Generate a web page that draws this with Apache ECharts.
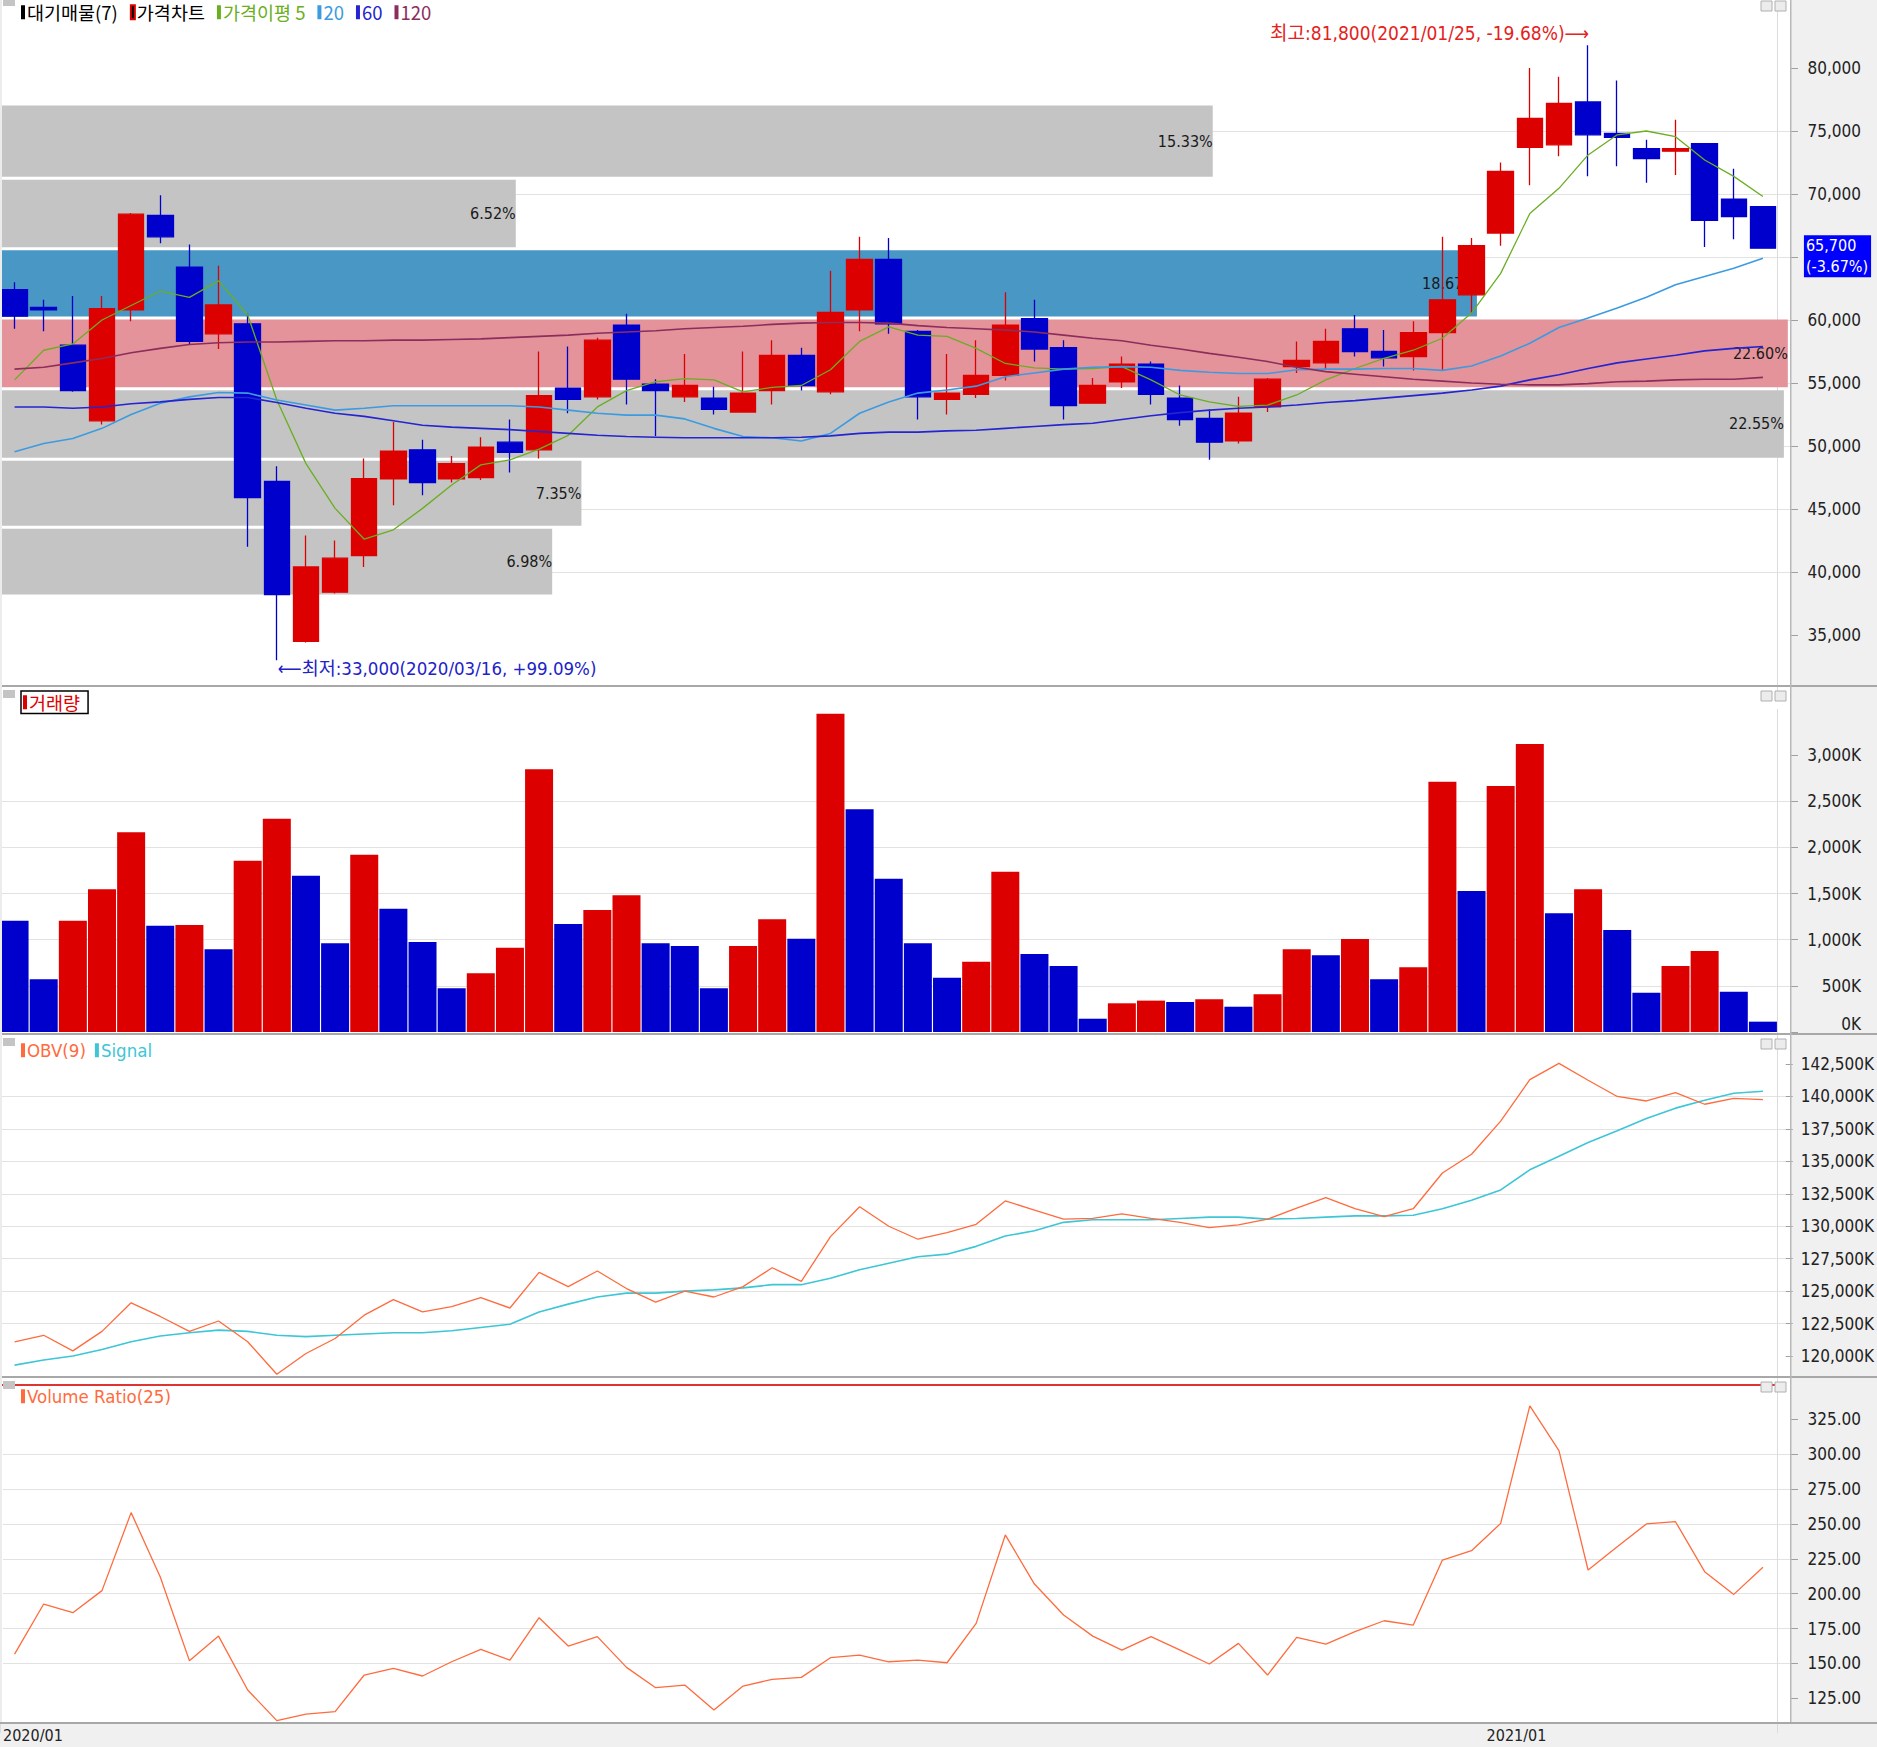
<!DOCTYPE html>
<html><head><meta charset="utf-8">
<script src="https://cdn.jsdelivr.net/npm/echarts@6/dist/echarts.min.js"></script>
<style>
html,body{margin:0;padding:0;background:#fff;}
#c{width:1877px;height:1747px;
 background:linear-gradient(#f0f0f0,#f0f0f0) 0 1723px / 100% 24px no-repeat,
            linear-gradient(to right,#fff 1791px,#f0f0f0 1791px);}
</style></head>
<body><div id="c"></div>
<script>
// ---------------- DATA ----------------
const weeks = ['2020/01/13','2020/01/20','2020/01/27','2020/02/03','2020/02/10','2020/02/17','2020/02/24','2020/03/02','2020/03/09','2020/03/16',
'2020/03/23','2020/03/30','2020/04/06','2020/04/13','2020/04/20','2020/04/27','2020/05/04','2020/05/11','2020/05/18','2020/05/25',
'2020/06/01','2020/06/08','2020/06/15','2020/06/22','2020/06/29','2020/07/06','2020/07/13','2020/07/20','2020/07/27','2020/08/03',
'2020/08/10','2020/08/17','2020/08/24','2020/08/31','2020/09/07','2020/09/14','2020/09/21','2020/09/28','2020/10/05','2020/10/12',
'2020/10/19','2020/10/26','2020/11/02','2020/11/09','2020/11/16','2020/11/23','2020/11/30','2020/12/07','2020/12/14','2020/12/21',
'2020/12/28','2021/01/04','2021/01/11','2021/01/18','2021/01/25','2021/02/01','2021/02/08','2021/02/15','2021/02/22','2021/03/01','2021/03/08'];

// [open, close, low, high]
const candles = [
[62400,60300,59300,63000],[61000,60800,59100,61600],[58000,54400,54300,61900],[52000,60900,51700,61900],[60800,68400,59900,68500],
[68300,66600,66100,69900],[64200,58300,58100,66000],[58900,61200,57700,64300],[59700,45900,42000,60500],[47200,38200,33000,48400],
[34500,40400,34400,42900],[38400,41100,38300,42500],[41300,47400,40400,49000],[47400,49600,45300,51900],[49700,47100,46100,50500],
[47400,48600,47100,49200],[47500,49900,47300,50700],[50300,49500,47900,52100],[49700,54000,49000,57500],[54600,53700,52600,57900],
[53900,58400,53700,58600],[59600,55300,53300,60500],[54900,54400,50800,55300],[53900,54800,53500,57300],[53800,52900,52500,54700],
[52700,54200,52700,57500],[54400,57200,53300,58400],[57200,54800,54400,57800],[54300,60600,54100,63900],[60800,64800,59100,66600],
[64800,59700,58900,66500],[59100,53900,52100,59200],[53700,54200,52500,57300],[54100,55600,53800,58400],[55600,59600,55200,62200],
[60100,57700,56700,61600],[57800,53200,52100,58400],[53400,54800,53400,55400],[55100,56500,54600,57100],[56500,54100,53300,56700],
[53800,52100,51600,54800],[52200,50300,48900,52900],[50400,52600,50200,53900],[53100,55300,52700,55400],[56300,56800,55800,58300],
[56600,58300,56100,59300],[59300,57500,57100,60400],[57500,57000,56300,59200],[57100,59000,56000,59900],[59000,61600,56000,66600],
[62000,65900,60500,66500],[66900,71800,65900,72500],[73700,76000,70700,80000],[73900,77200,73000,79300],[77300,74700,71400,81800],
[74800,74500,72200,79000],[73600,72800,70900,74300],[73400,73600,71500,75900],[74000,67900,65800,74000],[69600,68200,66400,72000],
[69000,65700,65700,69000]];

const ma5 = [55250,57600,58100,60000,61150,62300,61800,63100,60400,53650,48600,45050,42600,43350,45050,46900,48500,48900,49750,50850,
53100,54400,55100,55350,55250,54300,54650,54800,56050,58300,59450,58800,58700,57750,56550,56200,56100,56150,56300,55250,
54050,53500,53150,53250,54050,55250,56150,56950,57600,58550,60550,63700,68450,70450,73100,74700,75000,74550,72700,71400,69800];
const ma20 = [49550,50200,50600,51400,52500,53400,53900,54250,54200,53650,53250,52850,53000,53200,53200,53200,53200,53200,53100,52850,
52600,52450,52450,52150,51400,50750,50650,50400,51000,52600,53500,54200,54450,54750,55500,55800,56100,56250,56300,56250,
56000,55850,55750,55750,56050,56100,56100,56150,56150,56000,56350,57150,58150,59400,60150,60950,61800,62800,63450,64100,64900];
const ma60 = [53100,53100,53000,53100,53350,53500,53700,53850,53850,53450,53000,52600,52350,52000,51650,51500,51400,51300,51150,51000,
50850,50750,50700,50650,50650,50650,50650,50700,50800,51000,51100,51100,51200,51250,51400,51550,51700,51800,52100,52400,
52650,52850,53000,53100,53250,53450,53600,53800,54000,54200,54450,54750,55250,55650,56150,56600,56900,57200,57550,57750,57900];
const ma120 = [56100,56250,56600,56950,57400,57750,58050,58200,58250,58250,58300,58350,58350,58400,58400,58450,58500,58600,58700,58800,
58950,59050,59150,59300,59400,59500,59650,59750,59800,59800,59750,59550,59400,59300,59200,59050,58800,58550,58350,58000,
57700,57350,57050,56700,56250,55900,55700,55500,55300,55150,55000,54900,54850,54850,54950,55100,55150,55250,55300,55300,55450];

// volume in thousands of shares
const volume = [1206,571,1206,1546,2164,1150,1160,896,1856,2311,1694,961,1921,1336,975,473,636,914,2846,1170,
1322,1481,961,932,473,932,1221,1011,3449,2413,1661,961,588,762,1737,845,715,144,311,340,
325,354,274,408,896,831,1008,571,701,2712,1528,2665,3120,1286,1546,1105,426,715,877,437,112];

// OBV in thousands
const obv = [121100,121600,120400,121900,124100,123050,121900,122700,121100,118600,120200,121350,123150,124350,123400,123800,124500,123700,126450,125350,
126550,125200,124150,125000,124550,125350,126800,125750,129200,131500,130000,129000,129500,130150,131950,131250,130550,130600,130950,130600,
130300,129900,130100,130550,131400,132200,131350,130750,131350,134100,135550,138100,141300,142550,141250,140000,139650,140300,139400,139850,139750];
const obvSignal = [119300,119700,120000,120500,121100,121550,121800,122000,121900,121600,121500,121600,121700,121800,121800,121950,122200,122450,123400,124000,
124550,124850,124850,125000,125100,125250,125500,125500,126000,126650,127150,127650,127850,128450,129250,129650,130300,130500,130500,130500,
130600,130700,130700,130550,130600,130700,130800,130800,130850,131350,132000,132800,134350,135400,136450,137350,138300,139100,139700,140250,140400];

const volumeRatio = [156.7,192.6,186.4,202.2,258.1,212.0,152.0,169.6,131.0,109.0,113.7,115.4,141.7,146.5,141.0,151.2,160.1,152.4,182.8,162.5,
169.2,147.2,132.6,134.5,116.6,133.8,138.6,140.0,154.1,156.0,151.2,152.4,150.5,178.7,242.1,206.9,184.7,169.6,159.6,169.2,
159.6,149.6,164.4,141.7,168.7,163.9,172.8,180.6,177.5,224.1,230.8,250.4,334.6,302.5,217.0,233.7,250.0,251.6,215.8,199.5,218.9];
const vrRefLevel = 350;

// supply (대기매물) bands, bottom to top
const bandLow  = [38100,43550,48950,54550,60150,65650,71250];
const bandHigh = [43550,48950,54550,60150,65650,71250,77150];
const bandPct  = [6.98,7.35,22.55,22.60,18.67,6.52,15.33];

// tick labels (65,000 sits under the current-price box in the reference)
const priceTicks = [35000,40000,45000,50000,55000,60000,70000,75000,80000];
const priceTickMarks = [35000,40000,45000,50000,55000,60000,65000,70000,75000,80000];
const volTicks = [0,500,1000,1500,2000,2500,3000];
const obvTicks = [120000,122500,125000,127500,130000,132500,135000,137500,140000,142500];
const vrTicks = [125,150,175,200,225,250,275,300,325];

// ---------------- STYLE ----------------
const RED='#dd0000', BLUE='#0000cc';
const bandFill = ['#c4c4c4','#c4c4c4','#c4c4c4','#e4939a','#4997c5','#c4c4c4','#c4c4c4'];
const C5='#6aae22', C20='#3c9be0', C60='#2424d0', C120='#8c2d5c';
const COBV='#ff6b3d', CSIG='#3cc6d6';
const GRID='#e2e2e2';
const NARROW='"DejaVu Sans Condensed","Noto Sans CJK KR",sans-serif';
const KO='"Noto Sans CJK KR",sans-serif';

// derived helpers
const fmt = v => v.toLocaleString('en-US');
const xLabelIdx = weeks.map((w,i)=> (i===0 || w.slice(0,4)!==weeks[i-1].slice(0,4)) ? i : -1).filter(i=>i>=0);
const xLabels = xLabelIdx.map(i=>weeks[i].slice(0,7));
let hiIdx=0, loIdx=0;
candles.forEach((c,i)=>{ if(c[3]>candles[hiIdx][3]) hiIdx=i; if(c[2]<candles[loIdx][2]) loIdx=i; });
const last = candles[candles.length-1][1], prev = candles[candles.length-2][1];
const hi = candles[hiIdx][3], lo = candles[loIdx][2];
const rel = a => ((last-a)/a*100).toFixed(2);

// ---------------- LAYOUT ----------------
const DATA_W = 1777.5, FRAME_R = 86;
const panels = [
  {top:5, bottom:1049},        // price 5..698
  {top:709, bottom:715},       // volume 709..1032
  {top:1031.55, bottom:358.5}, // obv
  {top:1377.45, bottom:13.8}   // volume ratio
];
const grid = [];
panels.forEach(p=>{
  grid.push({left:0, width:DATA_W, top:p.top, bottom:p.bottom});
  grid.push({left:0, right:FRAME_R, top:p.top, bottom:p.bottom});
});

const catAxis = gi => ({gridIndex:gi, type:'category', data:weeks, boundaryGap:true,
  axisLine:{show:false, onZero:false}, axisTick:{show:false}, axisLabel:{show:false},
  splitLine:{show:true, interval:(i)=> i>0 && xLabelIdx.includes(i), lineStyle:{color:'#dcdcdc', width:1}}});
const hidVal = (gi,min,max) => ({gridIndex:gi, type:'value', min, max, show:false,
  axisLine:{show:false, onZero:false}, axisTick:{show:false}, axisLabel:{show:false}, splitLine:{show:false}});

const xAxis = [
  catAxis(0), hidVal(1,0,22.64),
  catAxis(2), hidVal(3,0,1),
  catAxis(4), hidVal(5,0,1),
  catAxis(6),
  {gridIndex:7, type:'value', position:'bottom', min:0, max:1791/(DATA_W/61), interval:1, offset:-10.2,
   axisLine:{show:false, onZero:false}, axisTick:{show:false}, splitLine:{show:false},
   axisLabel:{show:true, margin:4, align:'left', fontSize:16, fontFamily:NARROW, color:'#222', showMaxLabel:false,
     formatter:v=>{const k=xLabelIdx.indexOf(v); return k>=0?xLabels[k]:'';}}}
];

const frameY = (gi,min,max,interval,ticks,fmtFn,opts={}) => ({
  gridIndex:gi, type:'value', position:'right', min, max, interval,
  axisLine:{show:false, onZero:false},
  axisTick:{show:true, length:7, lineStyle:{color:'#a0a0a0'}, customValues:opts.marks||ticks},
  axisLabel:Object.assign({margin:70, align:'right', fontSize:17, fontFamily:NARROW, color:'#222',
    showMinLabel:false, showMaxLabel:false,
    formatter:v=> ticks.includes(v) ? fmtFn(v) : ''}, opts.label||{}),
  splitLine:{show:true, showMinLine:false, showMaxLine:false, lineStyle:{color:GRID, width:1}}
});

const yAxis = [
  hidVal(0,30000,85000),
  frameY(1,30000,85000,5000,priceTicks,fmt,{marks:priceTickMarks}),
  hidVal(2,0,3500),
  frameY(3,0,3500,500,volTicks,v=> v===0?'{z|0K}':fmt(v)+'K',
    {label:{showMinLabel:true, rich:{z:{padding:[0,0,16,0], fontSize:17, fontFamily:NARROW, color:'#222'}}}}),
  hidVal(4,117500,145000),
  frameY(5,117500,145000,2500,obvTicks,v=>fmt(v)+'K',{label:{align:'left', margin:15}}),
  hidVal(6,100,355),
  frameY(7,100,355,25,vrTicks,v=>v.toFixed(2))
];

// ---------------- SERIES ----------------
function renderBand(params, api){
  const pct = api.value(0), low = api.value(1), high = api.value(2);
  const p0 = api.coord([0, high]), p1 = api.coord([pct, low]);
  const y0 = p0[1]+1.5, y1 = p1[1]-1.5;
  return {type:'group', children:[
    {type:'rect', shape:{x:p0[0], y:y0, width:p1[0]-p0[0], height:y1-y0}, style:{fill:bandFill[params.dataIndex]}},
    {type:'text', style:{text:pct.toFixed(2)+'%', x:p1[0], y:(y0+y1)/2, align:'right', verticalAlign:'middle',
      fill:'#1a1a1a', fontSize:16, fontFamily:NARROW}}
  ]};
}

const series = [
  {name:'대기매물(7)', type:'custom', xAxisIndex:1, yAxisIndex:1, z:1, silent:true, renderItem:renderBand,
   encode:{x:0, y:[1,2]}, data:bandPct.map((p,i)=>[p,bandLow[i],bandHigh[i]])},
  {name:'가격차트', type:'candlestick', xAxisIndex:0, yAxisIndex:0, z:3, barWidth:26, data:candles,
   itemStyle:{color:RED, color0:BLUE, borderColor:RED, borderColor0:BLUE, borderWidth:1.3},
   markPoint:{symbol:'rect', symbolSize:1, itemStyle:{color:'transparent'}, silent:true,
     label:{show:true, fontFamily:NARROW},
     data:[
      {coord:[hiIdx, hi], label:{formatter:`최고:${fmt(hi)}(${weeks[hiIdx]}, ${rel(hi)}%)⟶`, color:'#e42222', fontSize:19, position:'inside', align:'right', verticalAlign:'middle', offset:[1,-12]}},
      {coord:[loIdx, lo], label:{formatter:`⟵최저:${fmt(lo)}(${weeks[loIdx]}, +${rel(lo)}%)`, color:'#2222c8', fontSize:18.5, position:'inside', align:'left', verticalAlign:'middle', offset:[1,8]}},
      {coord:[candles.length-1, last], label:{formatter:`${fmt(last)}\n(${((last-prev)/prev*100).toFixed(2)}%)`, color:'#fff', backgroundColor:'#0000ff',
        position:'inside', align:'left', verticalAlign:'middle', offset:[41,8], padding:[0,3,0,2], lineHeight:21, fontSize:16}}
     ]}},
  {name:'가격이평 5', type:'line', xAxisIndex:0, yAxisIndex:0, z:4, data:ma5, symbol:'none', lineStyle:{color:C5, width:1.3}, itemStyle:{color:C5}},
  {name:'20', type:'line', xAxisIndex:0, yAxisIndex:0, z:4, data:ma20, symbol:'none', lineStyle:{color:C20, width:1.6}, itemStyle:{color:C20}},
  {name:'60', type:'line', xAxisIndex:0, yAxisIndex:0, z:4, data:ma60, symbol:'none', lineStyle:{color:C60, width:1.6}, itemStyle:{color:C60}},
  {name:'120', type:'line', xAxisIndex:0, yAxisIndex:0, z:4, data:ma120, symbol:'none', lineStyle:{color:C120, width:1.6}, itemStyle:{color:C120}},
  {name:'거래량', type:'bar', xAxisIndex:2, yAxisIndex:2, z:3, barWidth:28,
   data:volume.map((v,i)=>({value:v, itemStyle:{color:(i>0 && v>volume[i-1])?RED:BLUE}}))},
  {name:'OBV(9)', type:'line', xAxisIndex:4, yAxisIndex:4, z:4, data:obv, symbol:'none', lineStyle:{color:COBV, width:1.3}, itemStyle:{color:COBV}},
  {name:'Signal', type:'line', xAxisIndex:4, yAxisIndex:4, z:3, data:obvSignal, symbol:'none', lineStyle:{color:CSIG, width:1.6}, itemStyle:{color:CSIG}},
  {name:'Volume Ratio(25)', type:'line', xAxisIndex:6, yAxisIndex:6, z:4, data:volumeRatio, symbol:'none', lineStyle:{color:COBV, width:1.3}, itemStyle:{color:COBV},
   markLine:{silent:true, symbol:'none', label:{show:false}, lineStyle:{color:'#e03434', width:2, type:'solid'}, data:[{yAxis:vrRefLevel}]}}
];

const legendBase = {icon:'rect', itemWidth:4, itemHeight:14, selectedMode:false, padding:0};
const legend = [
  Object.assign({}, legendBase, {left:21, top:3, itemGap:12, textStyle:{fontSize:18.5, fontFamily:KO, padding:[0,0,0,-3]},
    data:[
      {name:'대기매물(7)', itemStyle:{color:'#000'}, textStyle:{color:'#000'}},
      {name:'가격차트', itemStyle:{color:'#000'}, textStyle:{color:'#000'}},
      {name:'가격이평 5', itemStyle:{color:C5}, textStyle:{color:C5}},
      {name:'20', itemStyle:{color:C20}, textStyle:{color:C20}},
      {name:'60', itemStyle:{color:C60}, textStyle:{color:C60}},
      {name:'120', itemStyle:{color:C120}, textStyle:{color:C120}}
    ]}),
  Object.assign({}, legendBase, {left:21, top:691, borderColor:'#000', borderWidth:1.5, padding:[2,8,2,2],
    textStyle:{fontSize:18.5, fontFamily:KO, padding:[0,0,0,-3]},
    data:[{name:'거래량', itemStyle:{color:RED}, textStyle:{color:RED}}]}),
  Object.assign({}, legendBase, {left:21, top:1041, itemGap:9, textStyle:{fontSize:18.5, fontFamily:NARROW, padding:[0,0,0,-3]},
    data:[{name:'OBV(9)', itemStyle:{color:COBV}, textStyle:{color:COBV}},
          {name:'Signal', itemStyle:{color:CSIG}, textStyle:{color:CSIG}}]}),
  Object.assign({}, legendBase, {left:21, top:1387, textStyle:{fontSize:18.5, fontFamily:NARROW, padding:[0,0,0,-3]},
    data:[{name:'Volume Ratio(25)', itemStyle:{color:COBV}, textStyle:{color:COBV}}]})
];

// frame decorations (separators, panel icons)
const sepYs = [685, 1033, 1376, 1722];
const panelTops = [0, 690, 1038, 1381];
const graphic = [];
sepYs.forEach(y=>graphic.push({type:'rect', z:100, silent:true, shape:{x:0,y:y,width:1877,height:2}, style:{fill:'#a8a8a8'}}));
graphic.push({type:'rect', z:100, silent:true, shape:{x:1790,y:0,width:1.5,height:1722}, style:{fill:'#b8b8b8'}});
graphic.push({type:'rect', z:100, silent:true, shape:{x:0,y:0,width:2,height:1722}, style:{fill:'#ececec'}});
panelTops.forEach(t=>{
  graphic.push({type:'rect', z:100, silent:true, shape:{x:3,y:t,width:12,height:(t===0?6:8)}, style:{fill:'#c4c4c4'}});
  graphic.push({type:'rect', z:100, silent:true, shape:{x:1761,y:t+1,width:11,height:10}, style:{fill:'#ececec', stroke:'#b0b0b0', lineWidth:1}});
  graphic.push({type:'rect', z:100, silent:true, shape:{x:1775,y:t+1,width:11,height:10}, style:{fill:'#ececec', stroke:'#b0b0b0', lineWidth:1}});
});

const chart = echarts.init(document.getElementById('c'), null, {renderer:'svg', width:1877, height:1747});
chart.setOption({animation:false, backgroundColor:'transparent', grid, xAxis, yAxis, series, legend, graphic});
</script></body></html>
